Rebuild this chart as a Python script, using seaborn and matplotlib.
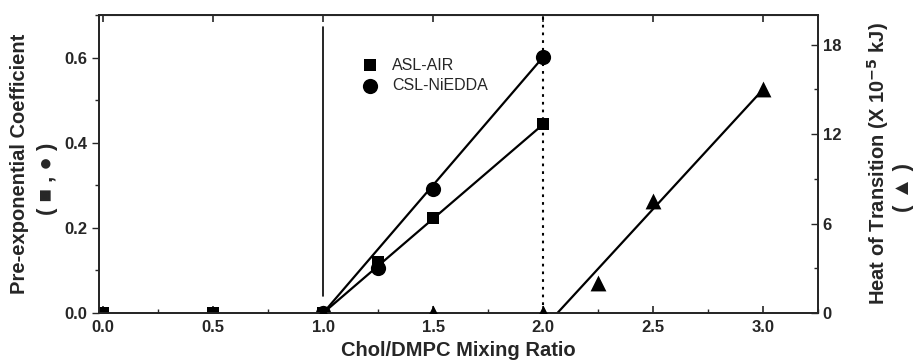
import numpy as np
import pandas as pd
import seaborn as sns
from matplotlib import pyplot as plt
from matplotlib.ticker import MultipleLocator

# values
asl_x = [0.0, 0.5, 1.0, 1.25, 1.5, 2.0]
asl_y = [0.0, 0.0, 0.0, 0.12, 0.223, 0.443]
csl_x = [1.0, 1.25, 1.5, 2.0]
csl_y = [0.0, 0.106, 0.292, 0.601]
heat_x = [1.0, 1.5, 2.0, 2.25, 2.5, 3.0]
heat_y = [0.0, 0.0, 0.0, 2.0, 7.5, 15.0]

# straight fit lines (end points)
asl_fit_x = [1.0, 2.0]
asl_fit_y = [0.0, 0.443]
csl_fit_x = [1.0, 2.0]
csl_fit_y = [0.0, 0.601]
heat_fit_x = [2.065, 3.0]
heat_fit_y = [0.0, 15.0]

sns.set_style("ticks")
plt.rcParams['font.family'] = ['Liberation Sans', 'DejaVu Sans']
plt.rcParams['font.weight'] = 'bold'
plt.rcParams['axes.labelweight'] = 'bold'
plt.rcParams['mathtext.default'] = 'bf'

fig = plt.figure(figsize = (9.15, 3.64), dpi = 100)
ax = fig.add_axes([0.108, 0.140, 0.786, 0.819])
ax2 = ax.twinx()

asl_df = pd.DataFrame({"x": asl_x, "y": asl_y})
csl_df = pd.DataFrame({"x": csl_x, "y": csl_y})
heat_df = pd.DataFrame({"x": heat_x, "y": heat_y})

# vertical guide lines
ax.plot([1.0, 1.0], [0.04, 0.672], color = 'black', lw = 1.2)
ax.plot([2.0, 2.0], [0.02, 0.70], color = 'black', lw = 1.5, ls = (0, (1.3, 2.4)))

sns.lineplot(x = asl_fit_x, y = asl_fit_y, ax = ax, color = 'black', lw = 1.6)
sns.lineplot(x = csl_fit_x, y = csl_fit_y, ax = ax, color = 'black', lw = 1.6)
sns.lineplot(x = heat_fit_x, y = heat_fit_y, ax = ax2, color = 'black', lw = 1.6)

sns.scatterplot(data = csl_df, x = "x", y = "y", ax = ax, marker = 'o', s = 120,
                color = 'black', edgecolor = 'black', linewidth = 0,
                label = "CSL-NiEDDA", zorder = 3)
sns.scatterplot(data = asl_df, x = "x", y = "y", ax = ax, marker = 's', s = 85,
                color = 'black', edgecolor = 'black', linewidth = 0,
                label = "ASL-AIR", zorder = 4)
sns.scatterplot(data = heat_df, x = "x", y = "y", ax = ax2, marker = '^', s = 130,
                color = 'black', edgecolor = 'black', linewidth = 0, zorder = 3)

handles, labels = ax.get_legend_handles_labels()
ax.legend(handles[::-1], labels[::-1], loc = 'upper left', bbox_to_anchor = (0.335, 0.905),
          frameon = False, handletextpad = 0.4, labelspacing = 0.35,
          prop = {'size': 11.5, 'weight': 'normal'})

ax.set_xlim(-0.02, 3.25)
ax.set_ylim(0, 0.70)
ax2.set_ylim(0, 20)

ax.set_xticks(np.arange(0, 3.01, 0.5))
ax.set_xticklabels(["0.0", "0.5", "1.0", "1.5", "2.0", "2.5", "3.0"])
ax.xaxis.set_minor_locator(MultipleLocator(0.25))
ax.yaxis.set_major_locator(MultipleLocator(0.2))
ax.yaxis.set_minor_locator(MultipleLocator(0.1))
ax2.yaxis.set_major_locator(MultipleLocator(6))
ax2.yaxis.set_minor_locator(MultipleLocator(3))

ax.tick_params(axis = 'x', which = 'both', direction = 'in', top = False)
ax.tick_params(axis = 'x', which = 'major', length = 5, width = 1.2, labelsize = 12, pad = 5)
ax.tick_params(axis = 'x', which = 'minor', length = 3, width = 1.0)
ax.tick_params(axis = 'y', which = 'both', direction = 'out', width = 1.0)
ax.tick_params(axis = 'y', which = 'major', length = 5, labelsize = 12)
ax.tick_params(axis = 'y', which = 'minor', length = 3)
ax2.tick_params(axis = 'y', which = 'both', direction = 'in', width = 1.0)
ax2.tick_params(axis = 'y', which = 'major', length = 5, labelsize = 12)
ax2.tick_params(axis = 'y', which = 'minor', length = 3)

secx = ax.secondary_xaxis('top')
secx.set_xticks(np.arange(0, 3.01, 0.5))
secx.tick_params(direction = 'in', length = 5, width = 1.2, labeltop = False)

for a in (ax, ax2):
    for sp in a.spines.values():
        sp.set_linewidth(1.3)
        sp.set_visible(True)

ax.set_xlabel("Chol/DMPC Mixing Ratio", fontsize = 14.5, labelpad = 4)
ax.set_ylabel("Pre-exponential Coefficient", fontsize = 14.5, labelpad = 25)
ax2.set_ylabel("Heat of Transition (X 10$^{-5}$ kJ)", fontsize = 14.5, labelpad = 17)

fig.text(0.052, 0.51, "( \u25a0 , \u25cf )", rotation = 90, ha = 'center', va = 'center',
         fontsize = 16)
fig.text(0.987, 0.485, "( \u25b2 )", rotation = 90, ha = 'center', va = 'center',
         fontsize = 16)

plt.savefig("out.png", dpi = 100)
